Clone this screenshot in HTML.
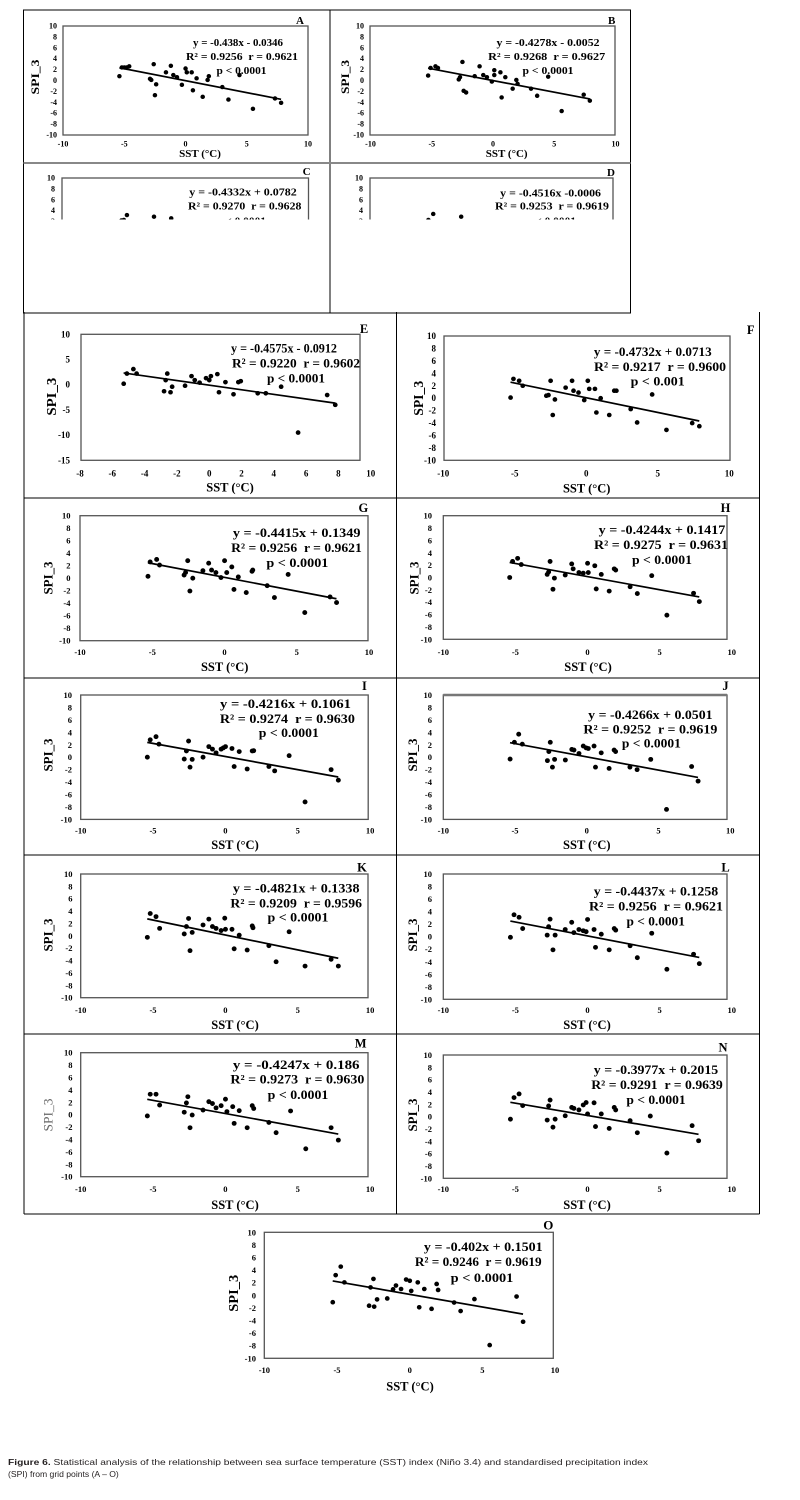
<!DOCTYPE html>
<html><head><meta charset="utf-8">
<style>
html,body{margin:0;padding:0;background:#fff}
svg{display:block}
.s{font-family:"Liberation Serif",serif;font-weight:bold;fill:#000;dominant-baseline:central;white-space:pre}
.e{text-anchor:end}.m{text-anchor:middle}
.f{fill:none;stroke:#555;stroke-width:1.3}
.d{fill:none;stroke:#000;stroke-linecap:round}
.r{fill:none;stroke:#000;stroke-width:1.7}
.b{stroke:#000;stroke-width:1;fill:none}
</style></head><body>
<svg width="800" height="1500" viewBox="0 0 800 1500">
<defs><clipPath id="cc"><rect x="24" y="164" width="606" height="55.5"/></clipPath></defs>

<!-- top box -->
<rect class="b" x="23.5" y="10" width="607" height="303"/>
<line class="b" x1="330" y1="10" x2="330" y2="313"/>
<line x1="23.5" y1="163" x2="630.5" y2="163" stroke="#888" stroke-width="2"/>

<!-- lower grid -->
<line class="b" x1="24" y1="312" x2="24" y2="1214"/>
<line class="b" x1="396.5" y1="312" x2="396.5" y2="1214"/>
<line class="b" x1="759.5" y1="312" x2="759.5" y2="1214"/>
<line class="b" x1="24" y1="498" x2="759.5" y2="498"/>
<line class="b" x1="24" y1="678" x2="759.5" y2="678"/>
<line class="b" x1="24" y1="855" x2="759.5" y2="855"/>
<line class="b" x1="24" y1="1034" x2="759.5" y2="1034"/>
<line class="b" x1="24" y1="1214" x2="759.5" y2="1214"/>

<!-- ===== A ===== -->
<rect class="f" x="63" y="26" width="245" height="109"/>
<g transform="translate(185.5 80.5) scale(12.25 -5.45)">
<path class="d" stroke-width="4.4" vector-effect="non-scaling-stroke" d="M-5.4 .8h.01M-5.2 2.4h.01M-5 2.4h.01M-4.8 2.4h.01M-4.6 2.6h.01M-2.6 3h.01M-2.9 .3h.01M-2.8 .1h.01M-2.4 -.7h.01M-2.5 -2.7h.01M-1.6 1.5h.01M-1.2 2.7h.01M-1 1h.01M-.7 .6h.01M-.3 -.8h.01M0 2.2h.01M.1 1.5h.01M.5 1.5h.01M.6 -1.8h.01M.9 .4h.01M1.4 -3h.01M1.8 .1h.01M1.9 .8h.01M3 -1.2h.01M3.5 -3.5h.01M4.4 1h.01M5.5 -5.2h.01M7.3 -3.3h.01M7.8 -4.1h.01"/>
<path class="r" vector-effect="non-scaling-stroke" d="M-5.4 2.33L7.8 -3.45"/>
</g>
<g class="s e" font-size="8"><text x="57" y="26">10</text><text x="57" y="36.9">8</text><text x="57" y="47.8">6</text><text x="57" y="58.7">4</text><text x="57" y="69.6">2</text><text x="57" y="80.5">0</text><text x="57" y="91.4">-2</text><text x="57" y="102.3">-4</text><text x="57" y="113.2">-6</text><text x="57" y="124.1">-8</text><text x="57" y="135">-10</text></g>
<g class="s m" font-size="8"><text x="63" y="144">-10</text><text x="124.3" y="144">-5</text><text x="185.5" y="144">0</text><text x="246.8" y="144">5</text><text x="308" y="144">10</text></g>
<text class="s m" x="200" y="154" font-size="11">SST (°C)</text>
<text class="s m" font-size="12" textLength="35" lengthAdjust="spacingAndGlyphs" transform="translate(35 77) rotate(-90)">SPI_3</text>
<text class="s m" x="300" y="21" font-size="11">A</text>
<text class="s m" x="238" y="43" font-size="11" textLength="90" lengthAdjust="spacingAndGlyphs">y = -0.438x - 0.0346</text>
<text class="s m" x="242" y="57" font-size="11" textLength="112" lengthAdjust="spacingAndGlyphs">R² = 0.9256  r = 0.9621</text>
<text class="s m" x="241.5" y="71" font-size="11" textLength="50" lengthAdjust="spacingAndGlyphs">p &lt; 0.0001</text>

<!-- ===== B ===== -->
<rect class="f" x="370" y="26" width="245" height="109"/>
<g transform="translate(493 80.5) scale(12.25 -5.45)">
<path class="d" stroke-width="4.4" vector-effect="non-scaling-stroke" d="M-5.3 .9h.01M-5.1 2.3h.01M-4.7 2.6h.01M-4.5 2.3h.01M-2.5 3.4h.01M-2.8 .2h.01M-2.7 .6h.01M-2.4 -1.9h.01M-2.2 -2.2h.01M-1.5 .8h.01M-1.1 2.6h.01M-.8 1h.01M-.5 .6h.01M-.1 -.2h.01M.1 1.9h.01M.1 1h.01M.6 1.5h.01M.7 -3.1h.01M1 .6h.01M1.6 -1.5h.01M1.9 .1h.01M2 -.6h.01M3.1 -1.5h.01M3.6 -2.8h.01M4.5 .7h.01M5.6 -5.6h.01M7.4 -2.6h.01M7.9 -3.7h.01"/>
<path class="r" vector-effect="non-scaling-stroke" d="M-5.3 2.262L7.9 -3.385"/>
</g>
<g class="s e" font-size="8"><text x="364" y="26">10</text><text x="364" y="36.9">8</text><text x="364" y="47.8">6</text><text x="364" y="58.7">4</text><text x="364" y="69.6">2</text><text x="364" y="80.5">0</text><text x="364" y="91.4">-2</text><text x="364" y="102.3">-4</text><text x="364" y="113.2">-6</text><text x="364" y="124.1">-8</text><text x="364" y="135">-10</text></g>
<g class="s m" font-size="8"><text x="370.5" y="144">-10</text><text x="431.8" y="144">-5</text><text x="493" y="144">0</text><text x="554.3" y="144">5</text><text x="615.5" y="144">10</text></g>
<text class="s m" x="506.7" y="154" font-size="11">SST (°C)</text>
<text class="s m" font-size="12" textLength="34" lengthAdjust="spacingAndGlyphs" transform="translate(345 77) rotate(-90)">SPI_3</text>
<text class="s m" x="611.7" y="21" font-size="11">B</text>
<text class="s m" x="548" y="43" font-size="11" textLength="103" lengthAdjust="spacingAndGlyphs">y = -0.4278x - 0.0052</text>
<text class="s m" x="546.7" y="57" font-size="11" textLength="117" lengthAdjust="spacingAndGlyphs">R² = 0.9268  r = 0.9627</text>
<text class="s m" x="548" y="71" font-size="11" textLength="51" lengthAdjust="spacingAndGlyphs">p &lt; 0.0001</text>

<!-- ===== C & D (clipped) ===== -->
<g clip-path="url(#cc)">
<rect class="f" x="62" y="178" width="246.5" height="100"/>
<g transform="translate(185.3 232.5) scale(12.3 -5.45)">
<path class="d" stroke-width="4.4" vector-effect="non-scaling-stroke" d="M-4.75 3.2h.01M-2.55 2.9h.01M-1.15 2.6h.01M-5.2 2.2h.01M-5 2.3h.01"/>
</g>
<g class="s e" font-size="8"><text x="55" y="178">10</text><text x="55" y="188.9">8</text><text x="55" y="199.8">6</text><text x="55" y="210.7">4</text><text x="55" y="221.6">2</text></g>
<text class="s m" font-size="12" textLength="35" lengthAdjust="spacingAndGlyphs" transform="translate(36 237) rotate(-90)">SPI_3</text>
<text class="s m" x="243" y="192.7" font-size="11" textLength="107.5" lengthAdjust="spacingAndGlyphs">y = -0.4332x + 0.0782</text>
<text class="s m" x="244.7" y="206.7" font-size="11" textLength="113.4" lengthAdjust="spacingAndGlyphs">R² = 0.9270  r = 0.9628</text>
<text class="s m" x="241" y="221.5" font-size="11" textLength="50" lengthAdjust="spacingAndGlyphs">p &lt; 0.0001</text>

<rect class="f" x="370" y="178" width="243" height="100"/>
<g transform="translate(491.5 232.5) scale(12.15 -5.45)">
<path class="d" stroke-width="4.4" vector-effect="non-scaling-stroke" d="M-4.8 3.4h.01M-2.5 2.9h.01M-5.2 2.3h.01"/>
</g>
<g class="s e" font-size="8"><text x="363" y="178">10</text><text x="363" y="188.9">8</text><text x="363" y="199.8">6</text><text x="363" y="210.7">4</text><text x="363" y="221.6">2</text></g>
<text class="s m" font-size="12" textLength="34" lengthAdjust="spacingAndGlyphs" transform="translate(344 237) rotate(-90)">SPI_3</text>
<text class="s m" x="550.6" y="193.3" font-size="11" textLength="100.8" lengthAdjust="spacingAndGlyphs">y = -0.4516x -0.0006</text>
<text class="s m" x="552" y="206.7" font-size="11" textLength="114" lengthAdjust="spacingAndGlyphs">R² = 0.9253  r = 0.9619</text>
<text class="s m" x="551" y="221.5" font-size="11" textLength="50" lengthAdjust="spacingAndGlyphs">p &lt; 0.0001</text>
</g>
<text class="s m" x="306.6" y="172" font-size="11">C</text>
<text class="s m" x="611" y="173" font-size="11">D</text>

<!-- ===== E ===== -->
<rect class="f" x="81" y="334.3" width="279" height="126"/>
<g transform="translate(209.2 384.7) scale(16.15 -5.04)">
<path class="d" stroke-width="4.6" vector-effect="non-scaling-stroke" d="M-5.3 .2h.01M-5.1 2.2h.01M-4.7 3.1h.01M-4.5 2.2h.01M-2.8 -1.3h.01M-2.7 .9h.01M-2.6 2.2h.01M-2.4 -1.5h.01M-2.3 -.4h.01M-1.5 -.2h.01M-1.1 1.7h.01M-.9 .9h.01M-.6 .4h.01M-.2 1.3h.01M0 .9h.01M.1 1.7h.01M.5 2.1h.01M.6 -1.5h.01M1 .5h.01M1.5 -1.9h.01M1.8 .5h.01M1.95 .7h.01M3 -1.7h.01M3.5 -1.7h.01M4.45 -.4h.01M5.5 -9.5h.01M7.3 -2.05h.01M7.8 -4h.01"/>
<path class="r" vector-effect="non-scaling-stroke" d="M-5.3 2.333L7.8 -3.66"/>
</g>
<g class="s e" font-size="9"><text x="70" y="334.3">10</text><text x="70" y="359.5">5</text><text x="70" y="384.7">0</text><text x="70" y="409.9">-5</text><text x="70" y="435.1">-10</text><text x="70" y="460.3">-15</text></g>
<g class="s m" font-size="9"><text x="80" y="473.3">-8</text><text x="112.3" y="473.3">-6</text><text x="144.6" y="473.3">-4</text><text x="176.9" y="473.3">-2</text><text x="209.2" y="473.3">0</text><text x="241.5" y="473.3">2</text><text x="273.8" y="473.3">4</text><text x="306.1" y="473.3">6</text><text x="338.4" y="473.3">8</text><text x="370.7" y="473.3">10</text></g>
<text class="s m" x="230" y="487.7" font-size="12.5">SST (°C)</text>
<text class="s m" font-size="13.5" textLength="38" lengthAdjust="spacingAndGlyphs" transform="translate(51.7 396.7) rotate(-90)">SPI_3</text>
<text class="s m" x="364" y="329" font-size="12.5">E</text>
<text class="s m" x="284" y="348" font-size="13" textLength="106" lengthAdjust="spacingAndGlyphs">y = -0.4575x - 0.0912</text>
<text class="s m" x="296" y="363" font-size="13" textLength="128" lengthAdjust="spacingAndGlyphs">R² = 0.9220  r = 0.9602</text>
<text class="s m" x="296" y="378" font-size="13" textLength="58" lengthAdjust="spacingAndGlyphs">p &lt; 0.0001</text>

<!-- ===== F ===== -->
<rect class="f" x="444" y="336" width="286" height="124.3"/>
<g transform="translate(586.3 398.2) scale(14.3 -6.22)">
<path class="d" stroke-width="4.6" vector-effect="non-scaling-stroke" d="M-5.3 .1h.01M-5.1 3.1h.01M-4.7 2.8h.01M-4.45 2h.01M-2.8 .4h.01M-2.65 .5h.01M-2.5 2.8h.01M-2.35 -2.7h.01M-2.2 -.2h.01M-1.45 1.7h.01M-1 2.8h.01M-.9 1.2h.01M-.55 .9h.01M-.15 -.3h.01M.1 2.8h.01M.2 1.5h.01M.6 1.5h.01M.7 -2.3h.01M1 0h.01M1.6 -2.7h.01M1.95 1.2h.01M2.1 1.2h.01M3.1 -1.75h.01M3.55 -3.9h.01M4.6 .6h.01M5.6 -5.1h.01M7.4 -4h.01M7.9 -4.5h.01"/>
<path class="r" vector-effect="non-scaling-stroke" d="M-5.3 2.579L7.9 -3.667"/>
</g>
<g class="s e" font-size="9"><text x="436" y="336">10</text><text x="436" y="348.4">8</text><text x="436" y="360.9">6</text><text x="436" y="373.3">4</text><text x="436" y="385.8">2</text><text x="436" y="398.2">0</text><text x="436" y="410.6">-2</text><text x="436" y="423.1">-4</text><text x="436" y="435.5">-6</text><text x="436" y="448">-8</text><text x="436" y="460.4">-10</text></g>
<g class="s m" font-size="9"><text x="443.3" y="473.3">-10</text><text x="514.8" y="473.3">-5</text><text x="586.3" y="473.3">0</text><text x="657.8" y="473.3">5</text><text x="729.3" y="473.3">10</text></g>
<text class="s m" x="586.7" y="488.3" font-size="12.5">SST (°C)</text>
<text class="s m" font-size="13.5" textLength="35" lengthAdjust="spacingAndGlyphs" transform="translate(418.3 398.3) rotate(-90)">SPI_3</text>
<text class="s m" x="750.7" y="330" font-size="12.5">F</text>
<text class="s m" x="652.8" y="351.7" font-size="13" textLength="117.7" lengthAdjust="spacingAndGlyphs">y = -0.4732x + 0.0713</text>
<text class="s m" x="660" y="366.7" font-size="13" textLength="132" lengthAdjust="spacingAndGlyphs">R² = 0.9217  r = 0.9600</text>
<text class="s m" x="657.7" y="381" font-size="13" textLength="54" lengthAdjust="spacingAndGlyphs">p &lt; 0.001</text>

<!-- ===== G ===== -->
<rect class="f" x="80" y="515.7" width="288" height="125"/>
<g transform="translate(224.5 578.2) scale(14.45 -6.25)">
<path class="d" stroke-width="4.8" vector-effect="non-scaling-stroke" d="M-5.3 .3h.01M-5.15 2.6h.01M-4.7 3h.01M-4.5 2.1h.01M-2.8 .5h.01M-2.7 .9h.01M-2.55 2.8h.01M-2.4 -2.05h.01M-2.2 0h.01M-1.5 1.2h.01M-1.1 2.4h.01M-.9 1.3h.01M-.6 .9h.01M-.25 .1h.01M0 2.8h.01M.15 .9h.01M.5 1.8h.01M.65 -1.8h.01M.95 .2h.01M1.5 -2.3h.01M1.9 1.1h.01M1.95 1.3h.01M2.95 -1.2h.01M3.45 -3.1h.01M4.4 .6h.01M5.55 -5.5h.01M7.3 -3h.01M7.75 -3.9h.01"/>
<path class="r" vector-effect="non-scaling-stroke" d="M-5.3 2.475L7.75 -3.287"/>
</g>
<g class="s e" font-size="8.5"><text x="70.5" y="515.7">10</text><text x="70.5" y="528.2">8</text><text x="70.5" y="540.7">6</text><text x="70.5" y="553.2">4</text><text x="70.5" y="565.7">2</text><text x="70.5" y="578.2">0</text><text x="70.5" y="590.7">-2</text><text x="70.5" y="603.2">-4</text><text x="70.5" y="615.7">-6</text><text x="70.5" y="628.2">-8</text><text x="70.5" y="640.7">-10</text></g>
<g class="s m" font-size="8.5"><text x="80" y="652">-10</text><text x="152.3" y="652">-5</text><text x="224.5" y="652">0</text><text x="296.8" y="652">5</text><text x="369" y="652">10</text></g>
<text class="s m" x="224.7" y="667" font-size="12.5">SST (°C)</text>
<text class="s m" font-size="12.5" textLength="33" lengthAdjust="spacingAndGlyphs" transform="translate(48.7 578) rotate(-90)">SPI_3</text>
<text class="s m" x="363.4" y="508" font-size="12.5">G</text>
<text class="s m" x="296.7" y="533" font-size="12.5" textLength="127.7" lengthAdjust="spacingAndGlyphs">y = -0.4415x + 0.1349</text>
<text class="s m" x="296.5" y="548" font-size="12.5" textLength="130.6" lengthAdjust="spacingAndGlyphs">R² = 0.9256  r = 0.9621</text>
<text class="s m" x="297.4" y="563" font-size="12.5" textLength="62" lengthAdjust="spacingAndGlyphs">p &lt; 0.0001</text>

<!-- ===== H ===== -->
<rect class="f" x="443.3" y="515.7" width="283.7" height="123.6"/>
<g transform="translate(587.5 577.5) scale(14.42 -6.18)">
<path class="d" stroke-width="4.8" vector-effect="non-scaling-stroke" d="M-5.4 0h.01M-5.2 2.6h.01M-4.85 3.1h.01M-4.6 2.1h.01M-2.8 .5h.01M-2.7 .9h.01M-2.6 2.6h.01M-2.4 -1.9h.01M-2.3 -.1h.01M-1.55 .4h.01M-1.1 2.2h.01M-1 1.4h.01M-.6 .8h.01M-.3 .7h.01M0 2.3h.01M.05 .8h.01M.5 1.9h.01M.6 -1.85h.01M.95 .5h.01M1.5 -2.2h.01M1.85 1.4h.01M1.95 1.2h.01M2.95 -1.5h.01M3.45 -2.6h.01M4.45 .3h.01M5.5 -6.1h.01M7.35 -2.55h.01M7.75 -3.9h.01"/>
<path class="r" vector-effect="non-scaling-stroke" d="M-5.4 2.433L7.75 -3.147"/>
</g>
<g class="s e" font-size="8.5"><text x="432" y="515.7">10</text><text x="432" y="528.1">8</text><text x="432" y="540.4">6</text><text x="432" y="552.8">4</text><text x="432" y="565.1">2</text><text x="432" y="577.5">0</text><text x="432" y="589.9">-2</text><text x="432" y="602.2">-4</text><text x="432" y="614.6">-6</text><text x="432" y="626.9">-8</text><text x="432" y="639.3">-10</text></g>
<g class="s m" font-size="8.5"><text x="443.3" y="652">-10</text><text x="515.4" y="652">-5</text><text x="587.5" y="652">0</text><text x="659.6" y="652">5</text><text x="731.7" y="652">10</text></g>
<text class="s m" x="588" y="667" font-size="12.5">SST (°C)</text>
<text class="s m" font-size="12.5" textLength="33" lengthAdjust="spacingAndGlyphs" transform="translate(414.6 578) rotate(-90)">SPI_3</text>
<text class="s m" x="725.5" y="508" font-size="12.5">H</text>
<text class="s m" x="662" y="530" font-size="12.5" textLength="126.7" lengthAdjust="spacingAndGlyphs">y = -0.4244x + 0.1417</text>
<text class="s m" x="661" y="545" font-size="12.5" textLength="134" lengthAdjust="spacingAndGlyphs">R² = 0.9275  r = 0.9631</text>
<text class="s m" x="662" y="560" font-size="12.5" textLength="60" lengthAdjust="spacingAndGlyphs">p &lt; 0.0001</text>

<!-- ===== I ===== -->
<rect class="f" x="80.7" y="695" width="287.5" height="124.4"/>
<g transform="translate(225.4 757.2) scale(14.47 -6.215)">
<path class="d" stroke-width="4.8" vector-effect="non-scaling-stroke" d="M-5.4 0h.01M-5.2 2.8h.01M-4.8 3.3h.01M-4.6 2.1h.01M-2.85 -.3h.01M-2.7 1h.01M-2.55 2.6h.01M-2.45 -1.6h.01M-2.3 -.35h.01M-1.55 0h.01M-1.15 1.7h.01M-.9 1.3h.01M-.65 .7h.01M-.3 1.3h.01M-.15 1.5h.01M0 1.7h.01M.45 1.4h.01M.6 -1.5h.01M.95 .9h.01M1.5 -1.9h.01M1.85 1h.01M1.95 1.05h.01M3 -1.5h.01M3.4 -2.2h.01M4.4 .25h.01M5.5 -7.2h.01M7.3 -2h.01M7.8 -3.7h.01"/>
<path class="r" vector-effect="non-scaling-stroke" d="M-5.4 2.383L7.8 -3.182"/>
</g>
<g class="s e" font-size="8.5"><text x="72" y="695">10</text><text x="72" y="707.5">8</text><text x="72" y="719.9">6</text><text x="72" y="732.3">4</text><text x="72" y="744.8">2</text><text x="72" y="757.2">0</text><text x="72" y="769.6">-2</text><text x="72" y="782.1">-4</text><text x="72" y="794.5">-6</text><text x="72" y="806.9">-8</text><text x="72" y="819.4">-10</text></g>
<g class="s m" font-size="8.5"><text x="80.7" y="830.7">-10</text><text x="153" y="830.7">-5</text><text x="225.4" y="830.7">0</text><text x="297.8" y="830.7">5</text><text x="370.1" y="830.7">10</text></g>
<text class="s m" x="235" y="845" font-size="12.5">SST (°C)</text>
<text class="s m" font-size="12.5" textLength="33" lengthAdjust="spacingAndGlyphs" transform="translate(48.7 755) rotate(-90)">SPI_3</text>
<text class="s m" x="364.4" y="686" font-size="12.5">I</text>
<text class="s m" x="285.5" y="704" font-size="12.5" textLength="131" lengthAdjust="spacingAndGlyphs">y = -0.4216x + 0.1061</text>
<text class="s m" x="287.4" y="719" font-size="12.5" textLength="135" lengthAdjust="spacingAndGlyphs">R² = 0.9274  r = 0.9630</text>
<text class="s m" x="288.8" y="733" font-size="12.5" textLength="60" lengthAdjust="spacingAndGlyphs">p &lt; 0.0001</text>

<!-- ===== J ===== -->
<rect class="f" x="443.3" y="695" width="283.7" height="124.4"/>
<line x1="443.3" y1="695" x2="727" y2="695" stroke="#777" stroke-width="2.5"/>
<g transform="translate(586.8 757.2) scale(14.35 -6.215)">
<path class="d" stroke-width="4.8" vector-effect="non-scaling-stroke" d="M-5.35 -.3h.01M-5.05 2.4h.01M-4.75 3.7h.01M-4.5 2.1h.01M-2.75 -.55h.01M-2.65 .9h.01M-2.55 2.4h.01M-2.4 -1.6h.01M-2.25 -.35h.01M-1.5 -.45h.01M-1.05 1.25h.01M-.9 1.15h.01M-.55 .6h.01M-.25 1.8h.01M-.05 1.5h.01M.1 1.4h.01M.5 1.8h.01M.6 -1.6h.01M1 .7h.01M1.55 -1.8h.01M1.9 1.15h.01M2 .9h.01M3 -1.6h.01M3.5 -2h.01M4.45 -.35h.01M5.55 -8.4h.01M7.3 -1.5h.01M7.75 -3.85h.01"/>
<path class="r" vector-effect="non-scaling-stroke" d="M-5.35 2.332L7.75 -3.256"/>
</g>
<g class="s e" font-size="8.5"><text x="432" y="695">10</text><text x="432" y="707.5">8</text><text x="432" y="719.9">6</text><text x="432" y="732.3">4</text><text x="432" y="744.8">2</text><text x="432" y="757.2">0</text><text x="432" y="769.6">-2</text><text x="432" y="782.1">-4</text><text x="432" y="794.5">-6</text><text x="432" y="806.9">-8</text><text x="432" y="819.4">-10</text></g>
<g class="s m" font-size="8.5"><text x="443.3" y="830.7">-10</text><text x="515" y="830.7">-5</text><text x="586.8" y="830.7">0</text><text x="658.5" y="830.7">5</text><text x="730.3" y="830.7">10</text></g>
<text class="s m" x="586.8" y="845" font-size="12.5">SST (°C)</text>
<text class="s m" font-size="12.5" textLength="33" lengthAdjust="spacingAndGlyphs" transform="translate(413 755) rotate(-90)">SPI_3</text>
<text class="s m" x="725.5" y="686" font-size="12.5">J</text>
<text class="s m" x="650.4" y="715" font-size="12.5" textLength="124.4" lengthAdjust="spacingAndGlyphs">y = -0.4266x + 0.0501</text>
<text class="s m" x="650.4" y="729.3" font-size="12.5" textLength="134" lengthAdjust="spacingAndGlyphs">R² = 0.9252  r = 0.9619</text>
<text class="s m" x="651.4" y="743.3" font-size="12.5" textLength="59" lengthAdjust="spacingAndGlyphs">p &lt; 0.0001</text>

<!-- ===== K ===== -->
<rect class="f" x="80.7" y="874" width="287.3" height="123.7"/>
<g transform="translate(225.4 935.8) scale(14.47 -6.185)">
<path class="d" stroke-width="4.8" vector-effect="non-scaling-stroke" d="M-5.4 -.25h.01M-5.2 3.6h.01M-4.8 3.1h.01M-4.55 1.2h.01M-2.85 .3h.01M-2.7 1.5h.01M-2.55 2.8h.01M-2.45 -2.4h.01M-2.3 .55h.01M-1.55 1.75h.01M-1.15 2.7h.01M-.9 1.5h.01M-.65 1.2h.01M-.3 .85h.01M-.05 2.85h.01M0 1.05h.01M.45 1.05h.01M.6 -2.1h.01M.95 .1h.01M1.5 -2.3h.01M1.85 1.6h.01M1.9 1.3h.01M3 -1.6h.01M3.5 -4.2h.01M4.4 .65h.01M5.5 -4.9h.01M7.3 -3.8h.01M7.8 -4.9h.01"/>
<path class="r" vector-effect="non-scaling-stroke" d="M-5.4 2.737L7.8 -3.627"/>
</g>
<g class="s e" font-size="8.5"><text x="72.5" y="874">10</text><text x="72.5" y="886.3">8</text><text x="72.5" y="898.7">6</text><text x="72.5" y="911">4</text><text x="72.5" y="923.4">2</text><text x="72.5" y="935.8">0</text><text x="72.5" y="948.2">-2</text><text x="72.5" y="960.5">-4</text><text x="72.5" y="972.9">-6</text><text x="72.5" y="985.3">-8</text><text x="72.5" y="997.7">-10</text></g>
<g class="s m" font-size="8.5"><text x="80.7" y="1010">-10</text><text x="153" y="1010">-5</text><text x="225.4" y="1010">0</text><text x="297.8" y="1010">5</text><text x="370.1" y="1010">10</text></g>
<text class="s m" x="235" y="1025" font-size="12.5">SST (°C)</text>
<text class="s m" font-size="12.5" textLength="33" lengthAdjust="spacingAndGlyphs" transform="translate(48.7 935) rotate(-90)">SPI_3</text>
<text class="s m" x="362" y="867.3" font-size="12.5">K</text>
<text class="s m" x="296.2" y="888.3" font-size="12.5" textLength="126.7" lengthAdjust="spacingAndGlyphs">y = -0.4821x + 0.1338</text>
<text class="s m" x="296.2" y="903.3" font-size="12.5" textLength="131.5" lengthAdjust="spacingAndGlyphs">R² = 0.9209  r = 0.9596</text>
<text class="s m" x="298" y="917.3" font-size="12.5" textLength="61" lengthAdjust="spacingAndGlyphs">p &lt; 0.0001</text>

<!-- ===== L ===== -->
<rect class="f" x="443.3" y="874" width="283.7" height="125.3"/>
<g transform="translate(587.5 936.7) scale(14.42 -6.265)">
<path class="d" stroke-width="4.8" vector-effect="non-scaling-stroke" d="M-5.35 -.1h.01M-5.1 3.5h.01M-4.75 3.1h.01M-4.5 1.3h.01M-2.8 .25h.01M-2.7 1.6h.01M-2.6 2.8h.01M-2.4 -2.1h.01M-2.25 .25h.01M-1.55 1.15h.01M-1.1 2.3h.01M-.95 .65h.01M-.6 1.15h.01M-.3 .95h.01M-.1 .8h.01M0 2.75h.01M.45 1.15h.01M.55 -1.7h.01M.95 .4h.01M1.5 -2.1h.01M1.85 1.3h.01M1.95 1.05h.01M2.95 -1.45h.01M3.45 -3.35h.01M4.45 .55h.01M5.5 -5.2h.01M7.35 -2.8h.01M7.75 -4.3h.01"/>
<path class="r" vector-effect="non-scaling-stroke" d="M-5.35 2.5L7.75 -3.313"/>
</g>
<g class="s e" font-size="8.5"><text x="432" y="874.1">10</text><text x="432" y="886.6">8</text><text x="432" y="899.1">6</text><text x="432" y="911.6">4</text><text x="432" y="924.2">2</text><text x="432" y="936.7">0</text><text x="432" y="949.2">-2</text><text x="432" y="961.8">-4</text><text x="432" y="974.3">-6</text><text x="432" y="986.8">-8</text><text x="432" y="999.4">-10</text></g>
<g class="s m" font-size="8.5"><text x="443.3" y="1010">-10</text><text x="515.4" y="1010">-5</text><text x="587.5" y="1010">0</text><text x="659.6" y="1010">5</text><text x="731.7" y="1010">10</text></g>
<text class="s m" x="587" y="1025" font-size="12.5">SST (°C)</text>
<text class="s m" font-size="12.5" textLength="33" lengthAdjust="spacingAndGlyphs" transform="translate(413 935) rotate(-90)">SPI_3</text>
<text class="s m" x="725.5" y="867.3" font-size="12.5">L</text>
<text class="s m" x="656" y="891.7" font-size="12.5" textLength="124.4" lengthAdjust="spacingAndGlyphs">y = -0.4437x + 0.1258</text>
<text class="s m" x="656" y="906.7" font-size="12.5" textLength="134" lengthAdjust="spacingAndGlyphs">R² = 0.9256  r = 0.9621</text>
<text class="s m" x="655.7" y="921.7" font-size="12.5" textLength="58.4" lengthAdjust="spacingAndGlyphs">p &lt; 0.0001</text>

<!-- ===== M ===== -->
<rect class="f" x="80.7" y="1052.7" width="287.3" height="124"/>
<g transform="translate(225.4 1114.7) scale(14.47 -6.2)">
<path class="d" stroke-width="4.8" vector-effect="non-scaling-stroke" d="M-5.4 -.2h.01M-5.2 3.3h.01M-4.8 3.3h.01M-4.55 1.55h.01M-2.85 .4h.01M-2.7 1.9h.01M-2.6 2.9h.01M-2.45 -2.1h.01M-2.3 -.05h.01M-1.55 .75h.01M-1.15 2.1h.01M-.9 1.8h.01M-.65 1.1h.01M-.3 1.45h.01M0 2.5h.01M.1 .5h.01M.5 1.3h.01M.6 -1.4h.01M.95 .65h.01M1.5 -2.1h.01M1.85 1.45h.01M1.95 1h.01M3 -1.25h.01M3.5 -2.9h.01M4.5 .6h.01M5.55 -5.5h.01M7.3 -2.1h.01M7.8 -4.1h.01"/>
<path class="r" vector-effect="non-scaling-stroke" d="M-5.4 2.479L7.8 -3.127"/>
</g>
<g class="s e" font-size="8.5"><text x="72.5" y="1052.7">10</text><text x="72.5" y="1065.1">8</text><text x="72.5" y="1077.5">6</text><text x="72.5" y="1089.9">4</text><text x="72.5" y="1102.3">2</text><text x="72.5" y="1114.7">0</text><text x="72.5" y="1127.1">-2</text><text x="72.5" y="1139.5">-4</text><text x="72.5" y="1151.9">-6</text><text x="72.5" y="1164.3">-8</text><text x="72.5" y="1176.7">-10</text></g>
<g class="s m" font-size="8.5"><text x="80.7" y="1189">-10</text><text x="153" y="1189">-5</text><text x="225.4" y="1189">0</text><text x="297.8" y="1189">5</text><text x="370.1" y="1189">10</text></g>
<text class="s m" x="235" y="1205" font-size="12.5">SST (°C)</text>
<text class="s m" font-size="12.5" font-weight="normal" style="font-weight:normal;fill:#666" textLength="33" lengthAdjust="spacingAndGlyphs" transform="translate(48.7 1115) rotate(-90)">SPI_3</text>
<text class="s m" x="360.6" y="1043.3" font-size="12.5">M</text>
<text class="s m" x="296.2" y="1065" font-size="12.5" textLength="126.7" lengthAdjust="spacingAndGlyphs">y = -0.4247x + 0.186</text>
<text class="s m" x="297.4" y="1079.3" font-size="12.5" textLength="134" lengthAdjust="spacingAndGlyphs">R² = 0.9273  r = 0.9630</text>
<text class="s m" x="298" y="1095" font-size="12.5" textLength="60.7" lengthAdjust="spacingAndGlyphs">p &lt; 0.0001</text>

<!-- ===== N ===== -->
<rect class="f" x="443.3" y="1055" width="283.7" height="123.3"/>
<g transform="translate(587.5 1116.7) scale(14.42 -6.165)">
<path class="d" stroke-width="4.8" vector-effect="non-scaling-stroke" d="M-5.35 -.4h.01M-5.1 3.1h.01M-4.75 3.7h.01M-4.5 1.8h.01M-2.8 -.55h.01M-2.7 1.75h.01M-2.6 2.7h.01M-2.4 -1.7h.01M-2.25 -.4h.01M-1.55 .15h.01M-1.1 1.5h.01M-.95 1.35h.01M-.6 1.1h.01M-.3 1.9h.01M-.1 2.3h.01M0 .45h.01M.45 2.25h.01M.55 -1.6h.01M.95 .45h.01M1.5 -1.9h.01M1.85 1.5h.01M1.95 1.1h.01M2.95 -.65h.01M3.45 -2.6h.01M4.35 .1h.01M5.5 -5.9h.01M7.25 -1.45h.01M7.7 -3.9h.01"/>
<path class="r" vector-effect="non-scaling-stroke" d="M-5.35 2.329L7.7 -2.861"/>
</g>
<g class="s e" font-size="8.5"><text x="432" y="1055">10</text><text x="432" y="1067.4">8</text><text x="432" y="1079.7">6</text><text x="432" y="1092">4</text><text x="432" y="1104.4">2</text><text x="432" y="1116.7">0</text><text x="432" y="1129">-2</text><text x="432" y="1141.4">-4</text><text x="432" y="1153.7">-6</text><text x="432" y="1166">-8</text><text x="432" y="1178.4">-10</text></g>
<g class="s m" font-size="8.5"><text x="443.3" y="1189">-10</text><text x="515.4" y="1189">-5</text><text x="587.5" y="1189">0</text><text x="659.6" y="1189">5</text><text x="731.7" y="1189">10</text></g>
<text class="s m" x="587" y="1205" font-size="12.5">SST (°C)</text>
<text class="s m" font-size="12.5" textLength="33" lengthAdjust="spacingAndGlyphs" transform="translate(413 1115) rotate(-90)">SPI_3</text>
<text class="s m" x="723" y="1047.3" font-size="12.5">N</text>
<text class="s m" x="656" y="1070" font-size="12.5" textLength="124.4" lengthAdjust="spacingAndGlyphs">y = -0.3977x + 0.2015</text>
<text class="s m" x="657" y="1085" font-size="12.5" textLength="131.5" lengthAdjust="spacingAndGlyphs">R² = 0.9291  r = 0.9639</text>
<text class="s m" x="656" y="1100" font-size="12.5" textLength="59.3" lengthAdjust="spacingAndGlyphs">p &lt; 0.0001</text>

<!-- ===== O ===== -->
<rect class="f" x="264.3" y="1232.3" width="289" height="126"/>
<g transform="translate(409.7 1295.3) scale(14.53 -6.3)">
<path class="d" stroke-width="4.6" vector-effect="non-scaling-stroke" d="M-5.3 -1.1h.01M-5.1 3.2h.01M-4.75 4.55h.01M-4.5 2.05h.01M-2.8 -1.65h.01M-2.7 1.25h.01M-2.5 2.6h.01M-2.45 -1.8h.01M-2.25 -.65h.01M-1.55 -.5h.01M-1.15 .95h.01M-.95 1.55h.01M-.6 1h.01M-.25 2.5h.01M0 2.3h.01M.1 .7h.01M.55 2.05h.01M.65 -1.9h.01M1 1h.01M1.5 -2.15h.01M1.85 1.8h.01M1.95 .85h.01M3.05 -1.15h.01M3.5 -2.5h.01M4.45 -.6h.01M5.5 -7.9h.01M7.35 -.2h.01M7.8 -4.2h.01"/>
<path class="r" vector-effect="non-scaling-stroke" d="M-5.3 2.281L7.8 -2.986"/>
</g>
<g class="s e" font-size="8.5"><text x="256" y="1232.3">10</text><text x="256" y="1244.9">8</text><text x="256" y="1257.5">6</text><text x="256" y="1270.1">4</text><text x="256" y="1282.7">2</text><text x="256" y="1295.3">0</text><text x="256" y="1307.9">-2</text><text x="256" y="1320.5">-4</text><text x="256" y="1333.1">-6</text><text x="256" y="1345.7">-8</text><text x="256" y="1358.3">-10</text></g>
<g class="s m" font-size="8.5"><text x="264.4" y="1370">-10</text><text x="337" y="1370">-5</text><text x="409.7" y="1370">0</text><text x="482.4" y="1370">5</text><text x="555" y="1370">10</text></g>
<text class="s m" x="410" y="1386.7" font-size="12.5">SST (°C)</text>
<text class="s m" font-size="13.5" textLength="37" lengthAdjust="spacingAndGlyphs" transform="translate(233.3 1293.3) rotate(-90)">SPI_3</text>
<text class="s m" x="548.3" y="1225" font-size="13">O</text>
<text class="s m" x="483.3" y="1246.7" font-size="13" textLength="118.7" lengthAdjust="spacingAndGlyphs">y = -0.402x + 0.1501</text>
<text class="s m" x="478.3" y="1261.7" font-size="13" textLength="126.7" lengthAdjust="spacingAndGlyphs">R² = 0.9246  r = 0.9619</text>
<text class="s m" x="482" y="1277.7" font-size="13" textLength="62.7" lengthAdjust="spacingAndGlyphs">p &lt; 0.0001</text>

<!-- caption -->
<text x="8" y="1462" font-family="Liberation Sans, sans-serif" font-size="8.6" fill="#231f20" dominant-baseline="central" textLength="640" lengthAdjust="spacingAndGlyphs"><tspan font-weight="bold">Figure 6.</tspan> Statistical analysis of the relationship between sea surface temperature (SST) index (Niño 3.4) and standardised precipitation index</text>
<text x="8" y="1474" font-family="Liberation Sans, sans-serif" font-size="8.6" fill="#231f20" dominant-baseline="central">(SPI) from grid points (A – O)</text>
</svg>
</body></html>
